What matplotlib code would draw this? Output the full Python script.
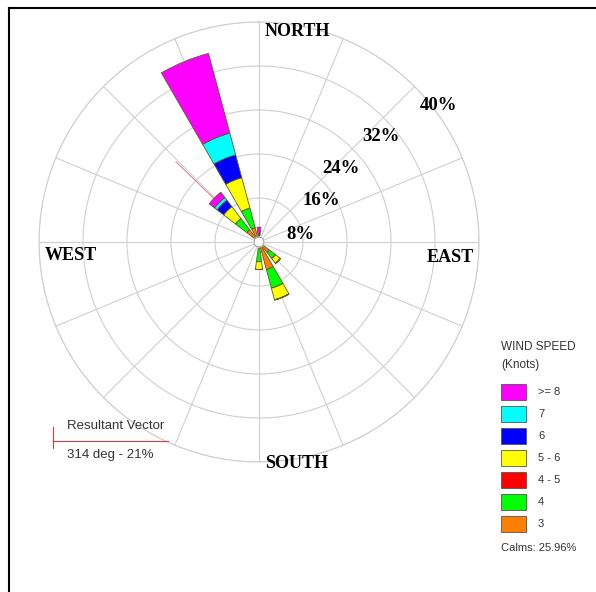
import numpy as np
import matplotlib
matplotlib.use("Agg")
import matplotlib.pyplot as plt
from matplotlib.patches import Rectangle
from matplotlib.lines import Line2D

# 16 compass directions, degrees clockwise from north
directions = [0, 22.5, 45, 67.5, 90, 112.5, 135, 157.5,
              180, 202.5, 225, 247.5, 270, 292.5, 315, 337.5]

# frequency (%) per speed class, innermost class first
speed_3 = [1.0, 0.4, 0.2, 0.2, 0.3, 0.6, 2.4, 5.2, 0.8, 0.6, 0.3, 0.2, 0.4, 0.4, 2.8, 2.7]
speed_4 = [0.1, 0.0, 0.0, 0.0, 0.0, 0.0, 1.4, 3.5, 2.8, 0.0, 0.0, 0.0, 0.0, 0.0, 2.6, 3.7]
speed_4_5 = [0.0] * 16
speed_5_6 = [0.2, 0.0, 0.0, 0.0, 0.0, 0.0, 1.1, 2.2, 1.4, 0.0, 0.0, 0.0, 0.0, 0.0, 2.7, 5.7]
speed_6 = [0.1, 0.0, 0.0, 0.0, 0.0, 0.0, 0.0, 0.0, 0.0, 0.0, 0.0, 0.0, 0.0, 0.0, 1.5, 4.3]
speed_7 = [0.1, 0.0, 0.0, 0.0, 0.0, 0.0, 0.0, 0.0, 0.0, 0.0, 0.0, 0.0, 0.0, 0.0, 0.6, 4.1]
speed_8 = [1.2, 0.0, 0.0, 0.0, 0.0, 0.0, 0.0, 0.0, 0.0, 0.0, 0.0, 0.0, 0.0, 0.0, 1.2, 15.0]

classes = [speed_3, speed_4, speed_4_5, speed_5_6, speed_6, speed_7, speed_8]
class_labels = ["3", "4", "4 - 5", "5 - 6", "6", "7", ">= 8"]
class_colors = ["#ff8000", "#00ff00", "#ff0000", "#ffff00", "#0000ff", "#00ffff", "#ff00ff"]

ring_values = [8, 16, 24, 32, 40]
calms = 25.96
resultant_dir = 314
resultant_pct = 21

W, H = 596, 592
fig = plt.figure(figsize=(W / 100, H / 100), dpi=100)

cx, cy, R = 259, 242, 220
ax = fig.add_axes([(cx - R) / W, (H - cy - R) / H, 2 * R / W, 2 * R / H], projection="polar")
ax.set_theta_zero_location("N")
ax.set_theta_direction(-1)
ax.set_ylim(0, 40)

theta = np.radians(directions)
width = np.radians(15)
bottom = np.zeros(len(directions))
for vals, col in zip(classes, class_colors):
    vals = np.array(vals)
    ax.bar(theta, vals, width=width, bottom=bottom, color=col,
           edgecolor="#5a5a2a", linewidth=0.6, zorder=3)
    bottom += vals

# grid
ax.set_xticks(np.radians(directions))
ax.set_xticklabels([])
ax.set_yticks(ring_values)
ax.set_yticklabels([])
ax.grid(True, color="#cfcfcf", linewidth=0.8)
ax.spines["polar"].set_color("#cfcfcf")
ax.spines["polar"].set_linewidth(0.8)
ax.set_facecolor("none")

# calm hole in the middle
hole = np.linspace(0, 2 * np.pi, 100)
ax.fill(hole, np.full_like(hole, 0.9), color="white", zorder=4)
ax.plot(hole, np.full_like(hole, 0.9), color="#888888", lw=0.6, zorder=4)

# resultant vector
ax.plot([np.radians(resultant_dir)] * 2, [0, resultant_pct], color="#e88a8a", lw=0.8, zorder=2)

# ring percentage labels
ring_pos = [(79, 7.6), (56, 13.6), (48, 20.0), (49, 29.3), (52.6, 41.0)]
for val, (ang, rr) in zip(ring_values, ring_pos):
    ax.text(np.radians(ang), rr, f"{val}%", fontsize=13.5, fontweight="bold",
            family="Liberation Serif", ha="center", va="center", zorder=5,
            clip_on=False)

serif = dict(fontsize=13, fontweight="bold", family="Liberation Serif", ha="center", va="center")
fig.text(297 / W, 1 - 31 / H, "NORTH", **serif)
fig.text(71 / W, 1 - 256 / H, "WEST", **serif)
fig.text(450 / W, 1 - 257 / H, "EAST", **serif)
fig.text(297 / W, 1 - 463 / H, "SOUTH", **serif)

# outer frame (top and left)
fig.add_artist(Line2D([9 / W, 9 / W], [0, 1 - 8 / H], color="black", lw=1.5))
fig.add_artist(Line2D([9 / W, 1], [1 - 8 / H, 1 - 8 / H], color="black", lw=1.5))

# wind speed legend
sans = dict(family="Liberation Sans", color="#333333")
fig.text(501 / W, 1 - 347 / H, "WIND SPEED", fontsize=8.5, va="center", **sans)
fig.text(501 / W, 1 - 365 / H, "(Knots)", fontsize=8.5, va="center", **sans)
for i, (lab, col) in enumerate(zip(class_labels[::-1], class_colors[::-1])):
    yc = 392 + 22 * i
    fig.add_artist(Rectangle((501 / W, 1 - (yc + 8) / H), 25 / W, 16 / H,
                             facecolor=col, edgecolor="#555555", lw=0.6))
    fig.text(538 / W, 1 - yc / H, lab, fontsize=8, va="center", **sans)
fig.text(501 / W, 1 - 548 / H, f"Calms: {calms:.2f}%", fontsize=8, va="center", **sans)

# resultant vector legend
fig.add_artist(Line2D([53 / W, 53 / W], [1 - 427 / H, 1 - 448 / H], color="#d04040", lw=0.8))
fig.add_artist(Line2D([53 / W, 168 / W], [1 - 441 / H, 1 - 441 / H], color="#d04040", lw=0.8))
fig.text(67 / W, 1 - 426 / H, "Resultant Vector", fontsize=9.5, va="center", **sans)
fig.text(67 / W, 1 - 455 / H, f"{resultant_dir} deg - {resultant_pct}%", fontsize=9.5, va="center", **sans)

fig.savefig("out.png", dpi=100, facecolor="white")
